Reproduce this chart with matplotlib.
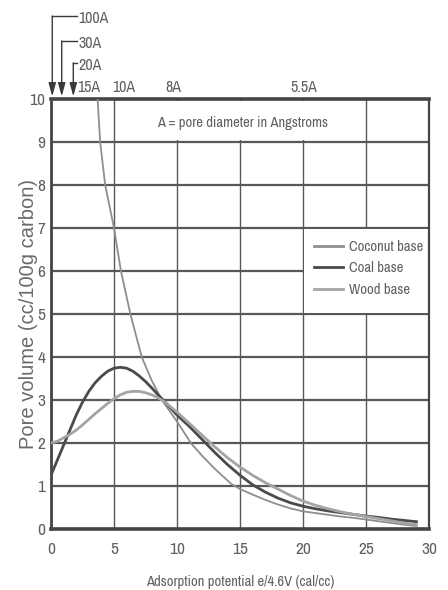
import matplotlib
matplotlib.use("Agg")
import matplotlib.pyplot as plt
from matplotlib.patches import Rectangle
from matplotlib.font_manager import FontProperties, fontManager

# ---------------- data ----------------
coal_x = [0, 0.5, 1, 1.5, 2, 2.5, 3, 3.5, 4, 4.5, 5, 5.5, 6, 6.5, 7, 7.5, 8, 8.5, 9,
          10, 11, 12, 13, 14, 15, 16, 17, 18, 19, 20, 21, 22, 23, 24, 25, 26, 27, 28, 29]
coal_y = [1.25, 1.6, 1.95, 2.3, 2.65, 2.95, 3.2, 3.4, 3.55, 3.67, 3.74, 3.76, 3.74, 3.67,
          3.56, 3.43, 3.28, 3.12, 2.97, 2.65, 2.38, 2.08, 1.78, 1.5, 1.25, 1.03, 0.86,
          0.72, 0.61, 0.53, 0.47, 0.42, 0.38, 0.34, 0.3, 0.27, 0.23, 0.2, 0.17]

wood_x = [0, 0.5, 1, 1.5, 2, 2.5, 3, 3.5, 4, 4.5, 5, 5.5, 6, 6.5, 7, 7.5, 8, 8.5, 9,
          10, 11, 12, 13, 14, 15, 16, 17, 18, 19, 20, 21, 22, 23, 24, 25, 26, 27, 28, 29]
wood_y = [2.0, 2.04, 2.12, 2.2, 2.3, 2.42, 2.55, 2.68, 2.8, 2.92, 3.03, 3.12, 3.18, 3.2,
          3.2, 3.17, 3.12, 3.05, 2.96, 2.72, 2.45, 2.18, 1.91, 1.66, 1.44, 1.25, 1.08,
          0.93, 0.78, 0.65, 0.55, 0.47, 0.4, 0.34, 0.29, 0.24, 0.19, 0.14, 0.1]

coconut_x = [3.5, 3.7, 3.9, 4.3, 5.0, 5.55, 6.3, 7.2, 8.0, 8.8, 10, 11.1, 12, 13, 14.3,
             15, 16, 17, 18, 19, 20, 21, 22, 23, 24, 25, 26, 27, 28, 29]
coconut_y = [11.5, 10, 9, 8, 7, 6, 5, 4, 3.45, 3.0, 2.5, 2.0, 1.7, 1.4, 1.05,
             0.93, 0.8, 0.68, 0.57, 0.48, 0.41, 0.37, 0.33, 0.29, 0.26, 0.22, 0.18,
             0.14, 0.1, 0.07]

series_names = ["Coconut base", "Coal base", "Wood base"]

x_ticks = [0, 5, 10, 15, 20, 25, 30]
y_ticks = list(range(0, 11))

top_labels = ["15A", "10A", "8A", "5.5A"]
top_label_x = [3.0, 5.75, 9.7, 20.1]

arrow_labels = ["100A", "30A", "20A"]
arrow_x = [0.1, 0.85, 1.77]
arrow_level = [1.193, 1.135, 1.084]   # axes-fraction height of each bracket

note_text = "A = pore diameter in Angstroms"


# ---------------- fonts ----------------
def narrow_font():
    for f in fontManager.ttflist:
        nm = f.name.lower()
        if ("narrow" in nm or "condensed" in nm) and "bold" not in f.fname.lower() \
                and f.style == "normal":
            return f.fname
    for f in fontManager.ttflist:
        st = str(f.stretch)
        if st in ("condensed", "semi-condensed", "extra-condensed") and f.style == "normal" \
                and f.weight in (400, "normal", "regular"):
            return f.fname
    return None


nf = narrow_font()


def nfp(size):
    if nf:
        return FontProperties(fname=nf, size=size)
    return FontProperties(family=["Liberation Sans", "DejaVu Sans"], size=size * 0.9)


txt_col = "#606060"
grid_col = "#585858"
c_coconut = "#8e8e8e"
c_coal = "#4a4a4a"
c_wood = "#a4a4a4"

fig = plt.figure(figsize=(4.48, 5.90), dpi=100)
ax = fig.add_axes([51 / 448, 1 - 529 / 590, 378 / 448, 430 / 590])

ax.set_xlim(0, 30)
ax.set_ylim(0, 10)
ax.set_xticks(x_ticks)
ax.set_yticks(y_ticks)
ax.tick_params(length=0, labelcolor=txt_col)
ax.tick_params(axis="x", pad=9)
ax.tick_params(axis="y", pad=4)
for lab in ax.get_xticklabels() + ax.get_yticklabels():
    lab.set_fontproperties(nfp(12.5))

ax.set_axisbelow(True)
ax.xaxis.grid(True, color=grid_col, linewidth=1.0)
ax.yaxis.grid(True, color=grid_col, linewidth=1.6)

for side, lw in [("left", 2.0), ("bottom", 2.6), ("top", 2.6), ("right", 1.6)]:
    ax.spines[side].set_linewidth(lw)
    ax.spines[side].set_color("#454545")

# white patches behind the note and legend
ax.add_patch(Rectangle((8.0, 9.04), 16.0, 0.92, facecolor="white", edgecolor="none", zorder=1))
ax.add_patch(Rectangle((20.08, 5.03), 9.9, 1.94, facecolor="white", edgecolor="none", zorder=1))

l1, = ax.plot(coconut_x, coconut_y, color=c_coconut, lw=1.3, zorder=3)
l2, = ax.plot(coal_x, coal_y, color=c_coal, lw=2.0, zorder=3)
l3, = ax.plot(wood_x, wood_y, color=c_wood, lw=2.0, zorder=3)

leg = ax.legend([l1, l2, l3], series_names, loc="upper left",
                bbox_to_anchor=(20.85, 6.72), bbox_transform=ax.transData,
                frameon=False, handlelength=2.0, handletextpad=0.45,
                labelspacing=0.5, borderpad=0, borderaxespad=0,
                prop=nfp(10.5))
for t in leg.get_texts():
    t.set_color(txt_col)
for h in leg.legend_handles:
    h.set_linewidth(2.0)

ax.text(8.4, 9.45, note_text, ha="left", va="center", fontproperties=nfp(10.5),
        color=txt_col, zorder=4)

ax.set_xlabel("Adsorption potential e/4.6V (cal/cc)", fontproperties=nfp(10.5),
              color=txt_col, labelpad=13)
ax.set_ylabel("Pore volume (cc/100g carbon)", family=["Liberation Sans", "DejaVu Sans"],
              fontsize=14.5, color="#6a6a6a")
ax.yaxis.set_label_coords(-0.035, 0.5)

# top pore-diameter labels
trans = ax.get_xaxis_transform()
for lab, xv in zip(top_labels, top_label_x):
    ax.text(xv, 1.026, lab, transform=trans, ha="center", va="center",
            fontproperties=nfp(11.5), color=txt_col, clip_on=False)

# bracket arrows
text_x = 2.15
for lab, xv, lev in zip(arrow_labels, arrow_x, arrow_level):
    ax.plot([text_x - 0.1, xv], [lev, lev], transform=trans, color="#3a3a3a",
            lw=1.0, clip_on=False)
    ax.annotate("", xy=(xv, 1.006), xytext=(xv, lev), xycoords=trans,
                textcoords=trans,
                arrowprops=dict(arrowstyle="-|>,head_length=0.8,head_width=0.22",
                                color="#3a3a3a", lw=1.0, shrinkA=0, shrinkB=0),
                annotation_clip=False)
    ax.text(text_x, lev - 0.006, lab, transform=trans, ha="left", va="center",
            fontproperties=nfp(11.5), color=txt_col, clip_on=False)

fig.savefig("out.png", dpi=100)
